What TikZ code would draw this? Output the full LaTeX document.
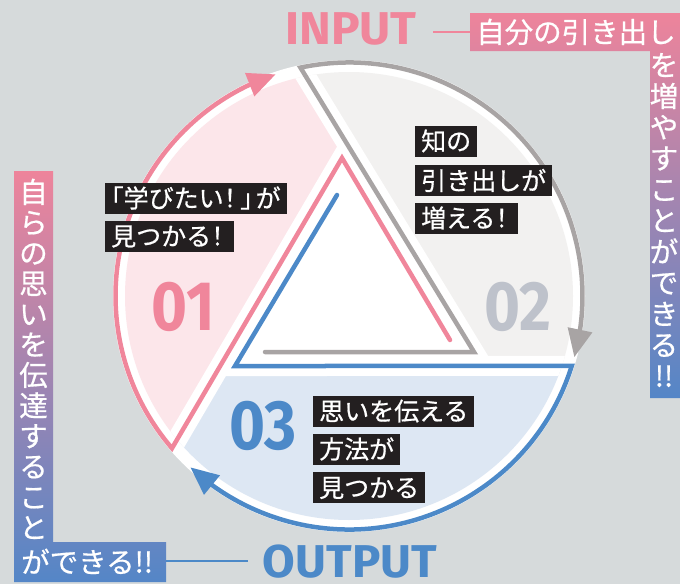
\documentclass[tikz,border=0pt]{standalone}
\usepackage{fontspec}
\usepackage{graphicx}
\usetikzlibrary{arrows.meta,bending,calc}
\newfontfamily\jp{Noto Sans CJK JP}[FakeBold=0.6]
\newfontfamily\jph{Noto Sans CJK JP}[RawFeature=+halt, FakeBold=0.6]
\newfontfamily\fira{Fira Sans}
\definecolor{bg}{RGB}{214,218,219}
\definecolor{pinkline}{RGB}{240,134,155}
\definecolor{pinkfill}{RGB}{252,230,234}
\definecolor{grayline}{RGB}{168,164,164}
\definecolor{grayfill}{RGB}{242,241,240}
\definecolor{blueline}{RGB}{76,137,200}
\definecolor{bluefill}{RGB}{221,231,243}
\definecolor{labelbg}{RGB}{35,31,32}
\definecolor{numgray}{RGB}{190,194,203}
\definecolor{gpink}{RGB}{238,132,155}
\definecolor{gblue}{RGB}{84,134,199}
\tikzset{
  halo/.style={draw=white, line width=20pt, line join=miter},
  ring/.style={line width=4.5pt, line cap=round, line join=miter,
    -{Triangle[length=28pt,width=24pt]}},
  lbl/.style={fill=labelbg, text=white, font=\jph\fontsize{25}{30}\selectfont,
    inner xsep=6pt, inner ysep=0pt, minimum height=31pt, anchor=west,
    text height=22pt, text depth=3pt},
  num/.style={font=\fira\bfseries\fontsize{70}{70}\selectfont, inner sep=0pt},
  io/.style={font=\fira\bfseries\fontsize{46}{46}\selectfont, inner sep=0pt},
  vch/.style={text=white, font=\jp\fontsize{28.5}{28.5}\selectfont, inner sep=0pt,
    text height=25pt, text depth=3.5pt},
}
\begin{document}
\begin{tikzpicture}[x=1pt,y=1pt]
\useasboundingbox (0,0) rectangle (680,-584);
\fill[bg] (0,0) rectangle (680,-584);
\coordinate (C) at (349,-296);
\coordinate (pR) at (450,-340);
\coordinate (pA) at (342,-158);
\coordinate (pC) at ($(C)+(220.7:233.5)$);
\coordinate (gL) at (265,-352);
\coordinate (gB) at (474,-352);
\coordinate (gT) at ($(C)+(102:233.5)$);
\coordinate (bS) at (337,-195);
\coordinate (bL) at (235,-366);
\coordinate (bR) at ($(C)+(-17.44:233.5)$);
\fill[white] (C) circle[radius=236];
\begin{scope}
  \clip (C) circle[radius=224];
  \fill[pinkfill] (348.7,-146.6) -- (87,-593) -- (-50,-593) -- (-50,50) -- (228.75,50) -- cycle;
  \fill[grayfill] (228.75,50) -- (482.6,-366) -- (700,-366) -- (700,50) -- cycle;
  \fill[bluefill] (220.2,-366) -- (700,-366) -- (700,-600) -- (83.2,-600) -- cycle;
  \draw[halo] (pR) -- (pA) -- (pC);
  \draw[halo] (gL) -- (gB) -- (gT);
  \draw[halo] (bS) -- (bL) -- (bR);
\end{scope}
\draw[ring, draw=pinkline] (pR) -- (pA) -- (pC) arc[start angle=220.7, end angle=108.3, radius=233.5];
\draw[ring, draw=grayline] (gL) -- (gB) -- (gT) arc[start angle=102, end angle=-15.2, radius=233.5];
\draw[ring, draw=blueline] (bS) -- (bL) -- (bR) arc[start angle=-17.44, end angle=-132.8, radius=233.5];
% numbers
\node[num, text=pinkline] (n1) at (183,-307) {\scalebox{0.88}[1]{01}};
\node[num, text=numgray] (n2) at (518,-307) {\scalebox{0.88}[1]{02}};
\node[num, text=blueline] (n3) at (263,-426) {\scalebox{0.88}[1]{03}};
% labels
\node[lbl] (l1a) at (105,-198) {「学びたい！\kern4pt」\kern3pt が};
\node[lbl] (l1b) at (105,-236) {見つかる！\kern4pt};
\node[lbl] (l2a) at (415,-141) {知の\hspace{21pt}};
\node[lbl] (l2b) at (415,-180.5) {引き出しが};
\node[lbl] (l2c) at (415,-218) {増える！\kern4pt};
\node[lbl] (l3a) at (313,-411) {思いを伝える};
\node[lbl] (l3b) at (313,-449) {方法が\hspace{10pt}};
\node[lbl] (l3c) at (313,-487.5) {見つかる};
% INPUT / OUTPUT
\node[io, text=pinkline] (input) at (351,-29) {\scalebox{1.04}[1]{INPUT}};
\node[io, text=blueline] (output) at (350,-561.5) {\scalebox{1.03}[1]{OUTPUT}};
% right gradient label
\shade[top color=gpink, bottom color=gblue] (470,-13) -- (680,-13) -- (680,-398) -- (650,-398) -- (650,-51) -- (470,-51) -- cycle;
\coordinate (rbox) at (470,-32);
\coordinate (inEnd) at (433,-32);
\draw[pinkline, line width=1.5pt] (inEnd) -- (rbox);
\node[vch, anchor=west] (rrow) at (476,-32) {自分の引き出し};
\foreach \c [count=\i] in {を,増,や,す,こ,と,が,で,き,る,!!}
  \node[vch] (r\i) at (664,{-65-31.1*(\i-1)}) {\c};
% left gradient label
\shade[top color=gpink, bottom color=gblue] (14,-171) -- (53,-171) -- (53,-542) -- (166,-542) -- (166,-582) -- (14,-582) -- cycle;
\foreach \c [count=\i] in {自,ら,の,思,い,を,伝,達,す,る,こ,と}
  \node[vch] (v\i) at (33.5,{-192-30.5*(\i-1)}) {\c};
\node[vch, anchor=west] (lrow) at (21,-562) {ができる!!};
\coordinate (lbox) at (166,-561);
\coordinate (outEnd) at (248,-561);
\draw[blueline, line width=1.5pt] (lbox) -- (outEnd);
\end{tikzpicture}
\end{document}
